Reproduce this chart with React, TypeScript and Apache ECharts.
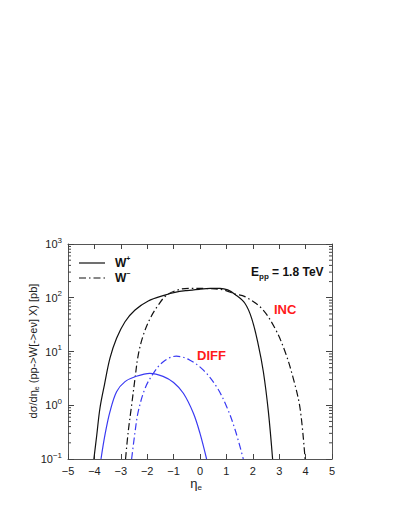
import React, { useEffect, useRef } from "react";
import * as echarts from "echarts";

const yDecades = [0.1, 1, 10, 100, 1000];

const incWpEta = [-4.02, -3.91, -3.79, -3.62, -3.41, -3.16, -2.84, -2.46, -1.96, -1.33, -0.95, -0.5, 0, 0.4, 0.76, 1.05, 1.33, 1.7, 1.96, 2.21, 2.4, 2.59, 2.75];
const incWpVal = [0.1, 0.28, 0.88, 2.4, 7.5, 17.6, 35.8, 59, 87, 112, 126, 136, 144, 149, 150, 140, 115, 79, 41, 13.2, 4.2, 0.76, 0.1];

const incWmEta = [-2.82, -2.72, -2.59, -2.46, -2.34, -2.15, -1.89, -1.58, -1.26, -0.76, -0.3, 0.3, 0.88, 1.33, 1.7, 2.34, 2.84, 3.22, 3.53, 3.79, 3.98];
const incWmVal = [0.1, 0.32, 1, 3.2, 8.6, 20, 41, 73, 112, 143, 150, 148, 140, 117, 105, 63, 27, 10, 3.2, 0.88, 0.1];

const diffWpEta = [-3.75, -3.6, -3.41, -3.16, -2.84, -2.46, -1.9, -1.4, -1.0, -0.63, -0.25, 0, 0.25];
const diffWpVal = [0.1, 0.28, 0.76, 1.79, 2.75, 3.39, 3.92, 3.45, 2.65, 1.67, 0.71, 0.3, 0.1];

const diffWmEta = [-2.59, -2.46, -2.34, -2.08, -1.77, -1.39, -0.9, -0.38, 0.13, 0.63, 1.01, 1.33, 1.64];
const diffWmVal = [0.1, 0.32, 0.76, 2.07, 3.9, 6.45, 8.2, 6.9, 4.5, 2.2, 0.94, 0.35, 0.1];

const FONT = "'Liberation Sans', Arial, sans-serif";
const BLUE = "#3a3af2";
const RED = "#ff1a1a";
const DASHDOT = [7, 3, 1.5, 3];

const zip = (a: number[], b: number[]) => a.map((v, i) => [v, b[i]]);

const minorVals: number[] = [];
yDecades.slice(0, -1).forEach((d) => {
  for (let k = 2; k <= 9; k++) minorVals.push(+(k * d).toPrecision(3));
});

export default function App() {
  const ref = useRef<HTMLDivElement>(null);
  useEffect(() => {
    if (!ref.current) return;
    const chart = echarts.init(ref.current, null, { renderer: "svg" });
    const axisLine = { show: true, onZero: false, lineStyle: { color: "#555", width: 1 } };
    const supFmt = (v: number) => {
      const e = Math.round(Math.log10(v));
      return `{b|10}{e|${e < 0 ? "\u2212" + -e : e}}`;
    };
    const line = (name: string, eta: number[], val: number[], color: string, dash: any) => ({
      type: "line",
      name,
      data: zip(eta, val),
      showSymbol: false,
      smooth: 0.35,
      lineStyle: { color, width: 1.2, type: dash },
      xAxisIndex: 0,
      yAxisIndex: 0,
      z: 3,
    });
    chart.setOption({
      animation: false,
      grid: { left: 68, right: 68, top: 244, bottom: 58 },
      xAxis: [
        {
          type: "value",
          min: -5,
          max: 5,
          interval: 1,
          position: "bottom",
          axisLine,
          axisTick: { inside: true, length: 5, lineStyle: { color: "#444" } },
          splitLine: { show: false },
          axisLabel: { fontFamily: FONT, fontSize: 11, color: "#222", margin: 6, formatter: (v: number) => (v < 0 ? "\u2212" + -v : String(v)) },
        },
        {
          type: "value",
          min: -5,
          max: 5,
          interval: 1,
          position: "top",
          axisLine,
          axisTick: { inside: true, length: 5, lineStyle: { color: "#444" } },
          splitLine: { show: false },
          axisLabel: { show: false },
        },
      ],
      yAxis: [
        {
          type: "log",
          logBase: 10,
          min: 0.1,
          max: 1000,
          position: "left",
          axisLine,
          axisTick: { inside: true, length: 6, lineStyle: { color: "#444" } },
          splitLine: { show: false },
          axisLabel: {
            formatter: supFmt,
            margin: 6,
            rich: {
              b: { fontFamily: FONT, fontSize: 11, color: "#222", lineHeight: 16 },
              e: { fontFamily: FONT, fontSize: 8, color: "#222", verticalAlign: "top", lineHeight: 16, padding: [0, 0, 6, 0] },
            },
          },
        },
        {
          type: "log",
          logBase: 10,
          min: 0.1,
          max: 1000,
          position: "right",
          axisLine,
          axisTick: { inside: true, length: 6, lineStyle: { color: "#444" } },
          splitLine: { show: false },
          axisLabel: { show: false },
        },
      ],
      series: [
        line("W+ INC", incWpEta, incWpVal, "#111", "solid"),
        line("W- INC", incWmEta, incWmVal, "#111", DASHDOT),
        line("W+ DIFF", diffWpEta, diffWpVal, BLUE, "solid"),
        line("W- DIFF", diffWmEta, diffWmVal, BLUE, DASHDOT),
        {
          type: "custom",
          xAxisIndex: 0,
          yAxisIndex: 0,
          data: minorVals.map((v) => [-5, v]),
          silent: true,
          renderItem: (params: any, api: any) => {
            const v = api.value(1);
            const l = api.coord([-5, v]);
            const r = api.coord([5, v]);
            const st = { stroke: "#444", lineWidth: 1 };
            return {
              type: "group",
              children: [
                { type: "line", shape: { x1: l[0], y1: l[1], x2: l[0] + 3, y2: l[1] }, style: st },
                { type: "line", shape: { x1: r[0] - 3, y1: r[1], x2: r[0], y2: r[1] }, style: st },
              ],
            };
          },
        },
      ],
      graphic: [
        { type: "line", shape: { x1: 79, y1: 263, x2: 105, y2: 263 }, style: { stroke: "#111", lineWidth: 1.2 } },
        { type: "line", shape: { x1: 79, y1: 278, x2: 105, y2: 278 }, style: { stroke: "#111", lineWidth: 1.2, lineDash: DASHDOT } },
        {
          type: "text",
          x: 115,
          y: 263,
          style: {
            text: "{b|W}{s|+}",
            verticalAlign: "middle",
            rich: {
              b: { fontFamily: FONT, fontSize: 12, fontWeight: "bold", fill: "#111", lineHeight: 16 },
              s: { fontFamily: FONT, fontSize: 7, fontWeight: "bold", fill: "#111", verticalAlign: "top", lineHeight: 16 },
            },
          },
        },
        {
          type: "text",
          x: 115,
          y: 278,
          style: {
            text: "{b|W}{s|\u2212}",
            verticalAlign: "middle",
            rich: {
              b: { fontFamily: FONT, fontSize: 12, fontWeight: "bold", fill: "#111", lineHeight: 16 },
              s: { fontFamily: FONT, fontSize: 7, fontWeight: "bold", fill: "#111", verticalAlign: "top", lineHeight: 16 },
            },
          },
        },
        {
          type: "text",
          x: 251,
          y: 272,
          style: {
            text: "{b|E}{s|pp}{b| = 1.8 TeV}",
            verticalAlign: "middle",
            rich: {
              b: { fontFamily: FONT, fontSize: 12, fontWeight: "bold", fill: "#111", lineHeight: 16 },
              s: { fontFamily: FONT, fontSize: 8, fontWeight: "bold", fill: "#111", verticalAlign: "bottom", lineHeight: 16, padding: [6, 0, 0, 0] },
            },
          },
        },
        {
          type: "text",
          x: 274,
          y: 309,
          style: { text: "INC", fontFamily: FONT, fontSize: 13, fontWeight: "bold", fill: RED, verticalAlign: "middle" },
        },
        {
          type: "text",
          x: 197,
          y: 355,
          style: { text: "DIFF", fontFamily: FONT, fontSize: 13, fontWeight: "bold", fill: RED, verticalAlign: "middle" },
        },
        {
          type: "text",
          x: 196,
          y: 483,
          style: {
            text: "{b|\u03b7}{s|e}",
            align: "center",
            verticalAlign: "middle",
            rich: {
              b: { fontFamily: FONT, fontSize: 13, fill: "#222", lineHeight: 16 },
              s: { fontFamily: FONT, fontSize: 8, fill: "#222", verticalAlign: "bottom", lineHeight: 16, padding: [8, 0, 0, 0] },
            },
          },
        },
        {
          type: "text",
          x: 33,
          y: 351,
          rotation: Math.PI / 2,
          style: {
            text: "{b|d\u03c3/d\u03b7}{s|e}{b| (pp->W[->e\u03bd] X) [pb]}",
            align: "center",
            verticalAlign: "middle",
            rich: {
              b: { fontFamily: FONT, fontSize: 11, fill: "#222", lineHeight: 14 },
              s: { fontFamily: FONT, fontSize: 7, fill: "#222", verticalAlign: "bottom", lineHeight: 14, padding: [6, 0, 0, 0] },
            },
          },
        },
      ],
    });
    return () => chart.dispose();
  }, []);
  return <div ref={ref} style={{ width: 400, height: 517, position: "absolute", left: 0, top: 0 }} />;
}
